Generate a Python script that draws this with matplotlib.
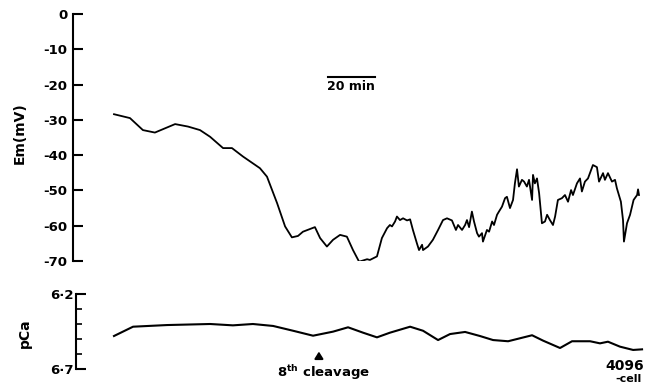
import matplotlib
matplotlib.use("Agg")
import matplotlib.pyplot as plt

# Em trace: time (min from start of record) and membrane potential (mV)
em_time = [0.0, 6.8, 12.3, 17.4, 21.7, 26.0, 31.5, 36.6, 40.9, 46.4, 50.2, 54.9,
           62.1, 65.1, 69.4, 72.8, 75.7, 78.3, 80.4, 85.5, 87.7, 90.6, 93.2, 96.2,
           99.1, 101.7, 104.3, 107.7, 108.9, 111.9, 114.0, 116.2, 117.4, 118.3,
           119.6, 120.4, 121.7, 123.0, 124.7, 126.0, 127.2, 128.9, 129.8, 131.1,
           131.5, 133.6, 135.7, 137.9, 140.0, 141.7, 143.8, 145.5, 146.4, 148.1,
           149.4, 150.2, 151.1, 152.3, 153.2, 154.5, 155.3, 156.6, 157.0, 158.7,
           159.6, 160.9, 161.7, 163.0, 163.8, 165.1, 166.4, 167.2, 168.5, 169.8,
           170.6, 171.5, 172.3, 173.6, 174.5, 175.7, 176.6, 177.9, 178.3, 179.1,
           180.0, 180.9, 182.1, 183.4, 184.3, 185.5, 186.8, 187.7, 188.9, 190.6,
           191.9, 193.2, 194.5, 195.3, 197.0, 198.3, 199.1, 200.4, 201.7, 203.8,
           205.5, 206.4, 208.1, 208.9, 210.2, 211.9, 213.2, 214.0, 215.7, 216.6,
           217.0, 218.3, 219.6, 221.1, 222.6, 223.0, 223.4]
em_mv = [-28.4, -29.5, -32.9, -33.6, -32.4, -31.2, -31.9, -32.9, -34.8, -38.0, -38.0, -40.4,
         -43.7, -46.1, -53.6, -60.2, -63.3, -62.9, -61.7, -60.4, -63.5, -65.9, -64.0, -62.6,
         -63.1, -66.9, -70.2, -69.5, -69.7, -68.7, -63.5, -60.7, -59.8, -60.2,
         -58.8, -57.4, -58.4, -57.9, -58.5, -58.2, -61.2, -65.0, -66.9, -65.4,
         -66.9, -65.9, -64.0, -61.2, -58.4, -57.9, -58.5, -61.2, -59.8, -61.2,
         -59.8, -58.4, -60.4, -56.0, -58.8, -62.1, -63.1, -62.1, -64.5, -61.2,
         -61.7, -58.8, -59.8, -56.9, -56.0, -54.6, -52.2, -51.8, -55.0, -52.7,
         -48.0, -44.0, -48.9, -47.0, -47.5, -48.9, -47.0, -52.7, -45.6, -48.0,
         -46.6, -50.8, -59.3, -58.8, -56.9, -58.4, -59.8, -57.4, -52.7, -52.2,
         -51.3, -53.2, -49.9, -51.3, -48.0, -46.6, -50.3, -47.5, -46.6, -42.8,
         -43.4, -47.5, -45.1, -47.0, -45.1, -47.5, -47.0, -49.4, -53.2, -58.4,
         -64.5, -59.3, -56.9, -52.7, -51.3, -49.7, -51.3]

# pCa trace
pca_time = [0.0, 8.1, 22.6, 40.9, 50.6, 59.1, 67.7, 76.2, 84.7, 93.2, 99.6, 106.0,
            111.9, 117.4, 126.0, 131.5, 137.9, 143.0, 149.4, 155.7, 161.3, 167.7,
            172.8, 177.9, 182.6, 189.8, 194.9, 202.6, 206.8, 210.2, 215.3, 220.9, 224.7]
pca = [6.480, 6.418, 6.407, 6.400, 6.409, 6.400, 6.413, 6.445, 6.478, 6.451, 6.422, 6.458,
       6.489, 6.458, 6.418, 6.445, 6.507, 6.467, 6.453, 6.480, 6.507, 6.515,
       6.495, 6.475, 6.511, 6.560, 6.515, 6.515, 6.529, 6.518, 6.551, 6.573, 6.569]

em_ticks = [0, -10, -20, -30, -40, -50, -60, -70]
em_ticklabels = ["0", "-10", "-20", "-30", "-40", "-50", "-60", "-70"]
pca_ticks = [6.2, 6.7]
pca_ticklabels = ["6\u00b72", "6\u00b77"]
pca_minor = [6.3, 6.4, 6.5, 6.6]

cleavage_time = 87.2     # 8th cleavage (min)
scalebar_start = 91.0    # 20 min scale bar
scalebar_len = 20

W, H = 655, 385
PX_PER_MIN = 2.35
X0 = 114  # pixel where the record starts

plt.rcParams['font.family'] = ['DejaVu Sans']
plt.rcParams['font.weight'] = 'bold'
plt.rcParams['mathtext.fontset'] = 'dejavusans'

fig = plt.figure(figsize=(W / 100, H / 100), dpi=100)


def rect(x0, y0, x1, y1):
    return [x0 / W, 1 - y1 / H, (x1 - x0) / W, (y1 - y0) / H]


def xlims(left):
    return ((left - X0) / PX_PER_MIN, (W - X0) / PX_PER_MIN)


# --- Em panel
ax1 = fig.add_axes(rect(73, 14, W, 261))
ax1.plot(em_time, em_mv, color='black', lw=1.3)
ax1.set_xlim(*xlims(73))
ax1.set_ylim(-70, 0)
for s in ['top', 'right', 'bottom']:
    ax1.spines[s].set_visible(False)
ax1.spines['left'].set_linewidth(1.5)
ax1.set_xticks([])
ax1.set_yticks(em_ticks)
ax1.set_yticklabels(em_ticklabels, fontsize=9.5, fontweight='bold')
ax1.tick_params(axis='y', direction='in', length=7, width=1.5, pad=4)
for t in ax1.yaxis.get_major_ticks():
    t.tick1line.set_clip_on(False)

# scale bar
ax1.plot([scalebar_start, scalebar_start + scalebar_len], [-17.8, -17.8],
         color='black', lw=1.5, clip_on=False)
ax1.text(scalebar_start + scalebar_len / 2, -18.6, "%d min" % scalebar_len,
         ha='center', va='top', fontsize=9, fontweight='bold')

# --- pCa panel
ax2 = fig.add_axes(rect(76, 294, W, 369))
ax2.plot(pca_time, pca, color='black', lw=1.5)
ax2.set_xlim(*xlims(76))
ax2.set_ylim(6.7, 6.2)
for s in ['top', 'right', 'bottom']:
    ax2.spines[s].set_visible(False)
ax2.spines['left'].set_linewidth(1.5)
ax2.set_xticks([])
ax2.set_yticks(pca_ticks)
ax2.set_yticklabels(pca_ticklabels, fontsize=9.5, fontweight='bold')
ax2.set_yticks(pca_minor, minor=True)
ax2.tick_params(axis='y', which='major', direction='in', length=7, width=1.5, pad=2)
ax2.tick_params(axis='y', which='minor', direction='in', length=4, width=1.2)

ax2.annotate('', xy=(cleavage_time, 0.27), xytext=(cleavage_time, 0.12),
             xycoords=('data', 'axes fraction'), textcoords=('data', 'axes fraction'),
             arrowprops=dict(arrowstyle='-|>,head_width=0.25,head_length=0.4',
                             color='black', lw=1.5))

# axis labels and annotations
fig.text(20 / W, 1 - 133 / H, "Em(mV)", rotation=90, ha='center', va='center',
         fontsize=10, fontweight='bold')
fig.text(25 / W, 1 - 333 / H, "pCa", rotation=90, ha='center', va='center',
         fontsize=10, fontweight='bold')
fig.text(324 / W, 1 - 373 / H, r"8$^{\mathbf{th}}$ cleavage", ha='center', va='center',
         fontsize=9.5, fontweight='bold')
fig.text(625 / W, 1 - 366 / H, "4096", ha='center', va='center',
         fontsize=10, fontweight='bold')
fig.text(629 / W, 1 - 378.5 / H, "-cell", ha='center', va='center',
         fontsize=8, fontweight='bold')

fig.savefig("out.png", dpi=100)
